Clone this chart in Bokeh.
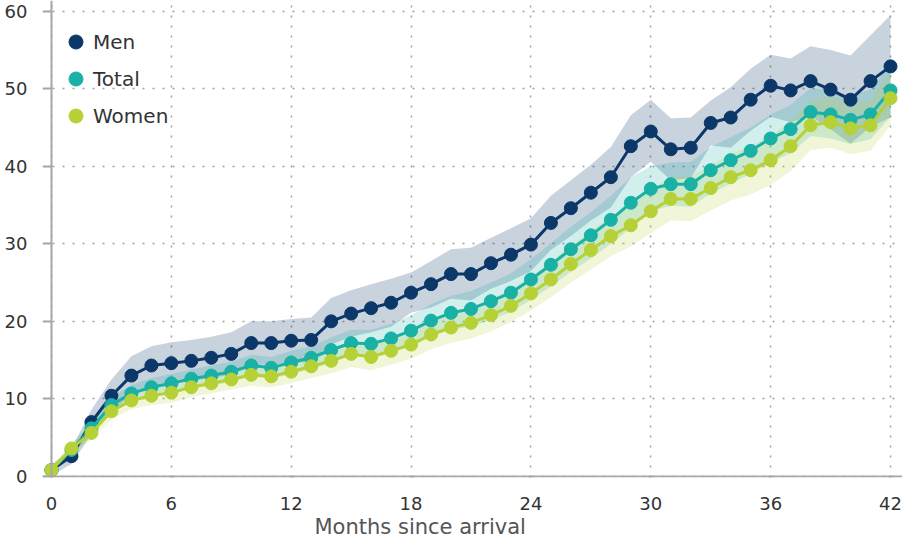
from bokeh.plotting import figure
from bokeh.models import (Range1d, Legend, LegendItem, Title, FixedTicker,
                          ColumnDataSource, LinearAxis)
from bokeh.embed import file_html
from bokeh.resources import INLINE

months = list(range(43))

men = [0.8, 2.6, 7.0, 10.4, 13.0, 14.3, 14.6, 14.9, 15.3, 15.8,
       17.2, 17.2, 17.5, 17.6, 20.0, 21.0, 21.7, 22.4, 23.7, 24.8,
       26.1, 26.1, 27.5, 28.6, 29.9, 32.7, 34.6, 36.6, 38.6, 42.6,
       44.5, 42.2, 42.4, 45.6, 46.3, 48.6, 50.4, 49.8, 51.0, 49.9,
       48.6, 51.0, 52.9]
men_hi = [1.5, 3.6, 8.6, 12.5, 15.5, 16.8, 17.3, 17.6, 18.0, 18.6,
          20.0, 20.0, 20.3, 20.5, 23.0, 24.0, 24.8, 25.5, 26.3, 27.8,
          29.3, 29.5, 30.8, 32.0, 33.3, 36.2, 38.2, 40.2, 42.5, 46.6,
          48.6, 46.2, 46.3, 48.5, 50.2, 52.6, 54.4, 53.9, 55.5, 55.0,
          54.3, 56.9, 59.5]
men_lo = [0.1, 1.6, 5.4, 8.3, 10.5, 11.8, 12.1, 12.3, 12.7, 13.1,
          14.4, 14.4, 14.7, 14.7, 17.0, 18.0, 18.6, 19.3, 21.1, 21.8,
          22.9, 22.7, 24.2, 25.2, 26.5, 29.2, 31.0, 33.0, 34.7, 38.6,
          40.6, 38.2, 38.5, 42.7, 42.4, 44.6, 46.4, 45.7, 46.5, 44.8,
          42.9, 45.1, 46.3]

total = [0.8, 3.4, 6.2, 9.2, 10.7, 11.5, 12.0, 12.6, 13.0, 13.5,
         14.3, 14.0, 14.7, 15.3, 16.3, 17.2, 17.1, 17.8, 18.8, 20.1,
         21.1, 21.6, 22.6, 23.7, 25.4, 27.3, 29.3, 31.1, 33.1, 35.3,
         37.1, 37.7, 37.7, 39.5, 40.8, 42.0, 43.6, 44.8, 47.0, 46.7,
         46.0, 46.7, 49.8]
total_hi = [1.1, 4.0, 7.1, 10.2, 11.8, 12.7, 13.2, 13.8, 14.3, 14.8,
            15.7, 15.4, 16.2, 16.8, 17.9, 18.9, 18.9, 19.7, 20.8, 22.2,
            23.3, 23.9, 25.0, 26.2, 28.0, 30.1, 32.2, 34.1, 36.2, 38.6,
            40.0, 40.5, 40.6, 42.5, 43.8, 45.0, 46.7, 47.9, 50.1, 49.8,
            49.1, 49.9, 53.2]
total_lo = [0.5, 2.8, 5.3, 8.2, 9.6, 10.3, 10.8, 11.4, 11.7, 12.2,
            12.9, 12.6, 13.2, 13.8, 14.7, 15.5, 15.3, 15.9, 16.8, 18.0,
            18.9, 19.3, 20.2, 21.2, 22.8, 24.5, 26.4, 28.1, 30.0, 32.0,
            34.2, 34.9, 34.8, 36.5, 37.8, 39.0, 40.5, 41.7, 43.9, 43.6,
            42.9, 43.5, 46.4]

women = [0.8, 3.6, 5.6, 8.4, 9.8, 10.4, 10.8, 11.5, 12.0, 12.5,
         13.1, 12.9, 13.5, 14.2, 14.9, 15.8, 15.4, 16.2, 17.0, 18.3,
         19.2, 19.8, 20.8, 22.0, 23.6, 25.4, 27.4, 29.2, 31.0, 32.4,
         34.2, 35.8, 35.8, 37.2, 38.6, 39.5, 40.8, 42.6, 45.3, 45.7,
         44.9, 45.3, 48.8]
women_hi = [1.3, 4.3, 6.5, 9.4, 10.9, 11.6, 12.1, 12.8, 13.3, 13.8,
            14.5, 14.3, 15.0, 15.7, 16.5, 17.5, 17.1, 18.0, 18.8, 20.2,
            21.2, 21.8, 22.9, 24.1, 25.8, 27.7, 29.8, 31.7, 33.6, 35.1,
            37.0, 38.6, 38.7, 40.1, 41.6, 42.6, 44.0, 45.8, 48.5, 49.0,
            48.2, 48.6, 52.3]
women_lo = [0.3, 2.9, 4.7, 7.4, 8.7, 9.2, 9.5, 10.2, 10.7, 11.2,
            11.7, 11.5, 12.0, 12.7, 13.3, 14.1, 13.7, 14.4, 15.2, 16.4,
            17.2, 17.8, 18.7, 19.9, 21.4, 23.1, 25.0, 26.7, 28.4, 29.7,
            31.4, 33.0, 32.9, 34.3, 35.6, 36.4, 37.6, 39.4, 42.1, 42.4,
            41.6, 42.0, 45.3]

x_ticks = [0, 6, 12, 18, 24, 30, 36, 42]
y_ticks = [0, 10, 20, 30, 40, 50, 60]
series_names = ["Men", "Total", "Women"]
colors = ["#0b3769", "#19b0a6", "#b6d136"]
x_title = "Months since arrival"

FONT = "DejaVu Sans"
AXC = "#a6a6a6"

p = figure(width=902, height=538, output_backend="svg", toolbar_location=None,
           x_range=Range1d(-0.45, 42.6), y_range=Range1d(-0.15, 61.4),
           min_border_left=42, min_border_right=0, min_border_top=0,
           min_border_bottom=0)
p.outline_line_color = None
p.background_fill_color = "white"

src = ColumnDataSource(dict(x=months, men=men, men_hi=men_hi, men_lo=men_lo,
                            total=total, total_hi=total_hi, total_lo=total_lo,
                            women=women, women_hi=women_hi, women_lo=women_lo))

# confidence bands
p.varea(x="x", y1="men_lo", y2="men_hi", source=src, fill_color=colors[0], fill_alpha=0.22)
p.varea(x="x", y1="total_lo", y2="total_hi", source=src, fill_color=colors[1], fill_alpha=0.2)
p.varea(x="x", y1="women_lo", y2="women_hi", source=src, fill_color=colors[2], fill_alpha=0.2)

scat = []
for key, c in zip(["men", "total", "women"], colors):
    p.line(x="x", y=key, source=src, line_color=c, line_width=3)
    r = p.scatter(x="x", y=key, source=src, size=13, fill_color=c, line_color=c)
    scat.append(r)

legend = Legend(items=[LegendItem(label=n, renderers=[r]) for n, r in zip(series_names, scat)],
                location=(16, 344), margin=0, padding=0, spacing=2,
                glyph_width=35, glyph_height=35, label_standoff=0,
                label_text_font=FONT, label_text_font_size="20px",
                label_text_color="#333333", background_fill_alpha=0,
                border_line_color=None)
p.add_layout(legend)

# label-only axes at the frame edges
for ax in (p.xaxis[0], p.yaxis[0]):
    ax.axis_line_color = None
    ax.major_tick_line_color = None
    ax.minor_tick_line_color = None
    ax.major_tick_in = 0
    ax.major_tick_out = 0
    ax.minor_tick_out = 0
    ax.major_label_text_font = FONT
    ax.major_label_text_font_size = "18px"
    ax.major_label_text_color = "#333333"
p.xaxis.ticker = FixedTicker(ticks=x_ticks)
p.yaxis.ticker = FixedTicker(ticks=y_ticks)
p.xaxis.major_label_standoff = 19
p.yaxis.major_label_standoff = 15

# axis lines and ticks at the zero position
xline = LinearAxis(fixed_location=0, ticker=FixedTicker(ticks=x_ticks),
                   axis_line_color=AXC, axis_line_width=2,
                   major_tick_line_color=AXC, major_tick_line_width=2,
                   major_tick_in=0, major_tick_out=7, minor_tick_line_color=None,
                   major_label_text_alpha=0)
yline = LinearAxis(fixed_location=0, ticker=FixedTicker(ticks=y_ticks),
                   axis_line_color=AXC, axis_line_width=2,
                   major_tick_line_color=AXC, major_tick_line_width=2,
                   major_tick_in=0, major_tick_out=8, minor_tick_line_color=None,
                   major_label_text_alpha=0)
p.add_layout(xline, "below")
p.add_layout(yline, "left")

p.grid.grid_line_color = "#a0a0a0"
p.grid.grid_line_dash = "2 8"
p.grid.grid_line_width = 1.5

p.add_layout(Title(text=x_title, align="left", offset=272, standoff=0,
                   text_font=FONT, text_font_size="21px", text_font_style="normal",
                   text_color="#555555"), "below")

open("out.html", "w").write(file_html(p, INLINE))
